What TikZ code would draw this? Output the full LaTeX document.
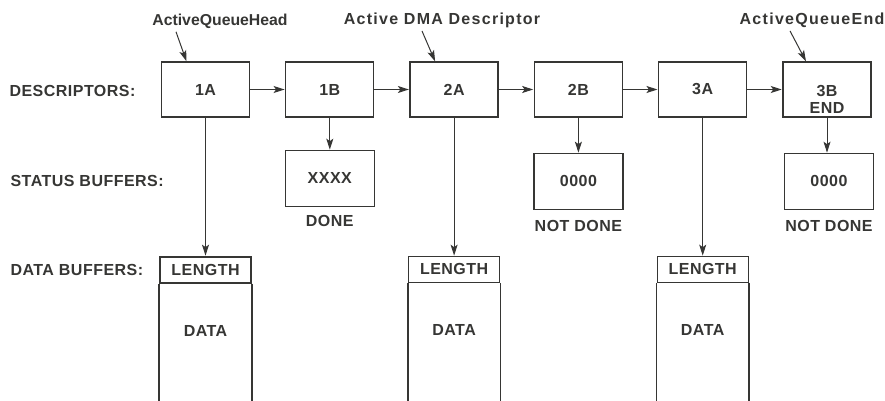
\documentclass[tikz,border=0pt]{standalone}
\usepackage{fontspec}
\setmainfont{Liberation Sans}
\newfontfamily\lblfont{Liberation Sans}[LetterSpace=3]
\newfontfamily\ptrfont{Liberation Sans}[LetterSpace=8]
\newfontfamily\headfont{Liberation Sans}
\usetikzlibrary{positioning,arrows.meta}
\definecolor{ink}{HTML}{363634}

\begin{document}
\begin{tikzpicture}[x=1pt,y=-1pt,
  font=\lblfont\bfseries\fontsize{16}{17}\selectfont,
  text=ink,
  node distance=35pt,
  desc/.style={draw=ink,line width=1.3pt,minimum width=88pt,minimum height=55pt,
    inner sep=0pt,align=center},
  stat/.style={draw=ink,line width=1.3pt,minimum width=89pt,minimum height=56pt,
    inner sep=0pt},
  lenbox/.style={draw=ink,line width=1.3pt,minimum width=91pt,minimum height=26pt,
    inner sep=0pt},
  heavy/.style={line width=2pt},
  ptr/.style={font=\ptrfont\bfseries\fontsize{16}{17}\selectfont},
  link/.style={draw=ink,line width=1pt,-{Stealth[length=11pt,width=7pt,inset=2.5pt]}},
  side/.style={draw=ink,line width=1.3pt}]
\useasboundingbox (0,0) rectangle (885,401);

% row titles
\node[anchor=west] (lDesc) at (6,91) {DESCRIPTORS:};
\node[anchor=west] (lStat) at (7,181) {STATUS BUFFERS:};
\node[anchor=west] (lData) at (7,270) {DATA BUFFERS:};

% descriptors
\node[desc] (d1A) at (205.5,89.5) {1A};
\node[desc,right=of d1A] (d1B) {1B};
\node[desc,right=of d1B] (d2A) {2A};
\node[desc,right=of d2A] (d2B) {2B};
\node[desc,right=of d2B] (d3A) {3A};
\node[desc,right=of d3A] (d3B) {};
\node[align=center] (t3B) at ([yshift=-10pt]d3B) {3B\\END};

\foreach \a/\b in {1A/1B,1B/2A,2A/2B,2B/3A,3A/3B}
  \draw[link,shorten >=0.6pt] (d\a) -- (d\b);

% queue pointers
\node[font=\headfont\bfseries\fontsize{15.8}{17}\selectfont] (qHead) at (220,21) {ActiveQueueHead};
\node[ptr] (dmaPtr) at (442,20) {Active DMA Descriptor};
\node[ptr] (qEnd) at (812,20) {ActiveQueueEnd};
\draw[link] ([xshift=-44pt]qHead.south) -- ([xshift=-19pt]d1A.north);
\draw[link] ([xshift=-20pt]dmaPtr.south) -- ([xshift=-19pt]d2A.north);
\draw[link] ([xshift=-22pt]qEnd.south) -- ([xshift=-21pt]d3B.north);

% status buffers
\node[stat,below=32pt of d1B] (s1B) {XXXX};
\node[stat,below=35pt of d2B] (s2B) {0000};
\node[stat,below=35pt of d3B,xshift=2pt] (s3B) {0000};
\node[below=5pt of s1B] (doneB) {DONE};
\node[below=7pt of s2B] (ndone2B) {NOT DONE};
\node[below=7pt of s3B] (ndone3B) {NOT DONE};
\foreach \s in {1B,2B,3B}
  \draw[link] (d\s.south) -- (d\s.south |- s\s.north);

% data buffers
\node[lenbox,heavy,below=138pt of d1A] (len1) {LENGTH};
\node[lenbox,below=138pt of d2A] (len2) {LENGTH};
\node[lenbox,below=138pt of d3A] (len3) {LENGTH};
\draw[side,heavy] (len1.south west) -- ++(0,125) (len1.south east) -- ++(0,125);
\draw[side] (len2.south west) -- ++(0,125) (len2.south east) -- ++(0,125);
\draw[side] (len3.south west) -- ++(0,125) (len3.south east) -- ++(0,125);
\node (dat1) at ([yshift=-47pt]len1.south) {DATA};
\node (dat2) at ([yshift=-47pt]len2.south) {DATA};
\node (dat3) at ([yshift=-47pt]len3.south) {DATA};
\foreach \n/\d in {1/1A,2/2A,3/3A}
  \draw[link] (d\d.south) -- (d\d.south |- len\n.north);
\end{tikzpicture}
\end{document}
